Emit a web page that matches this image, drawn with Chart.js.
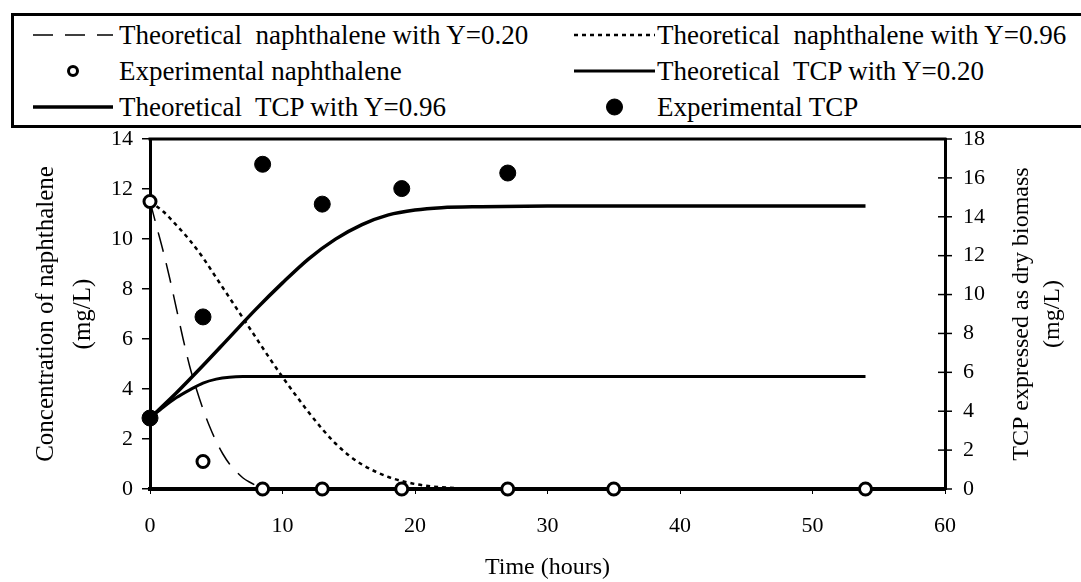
<!DOCTYPE html>
<html>
<head>
<meta charset="utf-8">
<script src="https://cdn.jsdelivr.net/npm/chart.js@4.4.1/dist/chart.umd.min.js"></script>
<style>
  html, body { margin: 0; padding: 0; background: #fff; }
  #wrap { position: relative; width: 1081px; height: 582px; overflow: hidden; }
  #chart { position: absolute; left: 0; top: 0; }
  #legend {
    position: absolute; left: 11px; top: 13px; width: 1120px; height: 109px;
    border: 3px solid #000; background: #fff; z-index: 2;
    font-family: "Liberation Serif", "Times New Roman", serif; font-size: 27px; color: #000;
  }
  .item { position: absolute; height: 36px; line-height: 36px; white-space: pre; }
  .item svg { position: absolute; top: 0; left: 0; }
  .item span { position: absolute; top: 0; }
</style>
</head>
<body>
<div id="wrap">
  <canvas id="chart" width="1081" height="582"></canvas>
  <div id="legend"></div>
</div>
<script>
// experimental points
var expTime = [0, 4, 8.5, 13, 19, 27, 35, 54];
var expNaph = [11.5, 1.1, 0, 0, 0, 0, 0, 0];
var expTcpTime = [0, 4, 8.5, 13, 19, 27];
var expTcp = [3.65, 8.85, 16.7, 14.65, 15.45, 16.25];

// model curves, naphthalene (mg/L)
var naph20Time = [0, 0.5, 1, 1.5, 2, 2.5, 3, 3.5, 4, 4.5, 5, 5.5, 6, 6.5, 7, 7.5, 8, 9, 10];
var naph20 = [11.5, 10.5, 9.5, 8.4, 7.2, 6.0, 4.9, 4.0, 3.2, 2.5, 1.9, 1.4, 1.0, 0.7, 0.45, 0.28, 0.15, 0.04, 0];
var naph96Time = [0, 1, 2, 3, 4, 5, 6, 7, 8, 9, 10, 11, 12, 13, 14, 15, 16, 17, 18, 19, 20, 21, 22, 24, 27, 54];
var naph96 = [11.5, 11.1, 10.55, 9.95, 9.25, 8.45, 7.65, 6.85, 6.05, 5.25, 4.48, 3.75, 3.05, 2.4, 1.82, 1.35, 0.98, 0.7, 0.48, 0.32, 0.2, 0.12, 0.07, 0.02, 0, 0];

// model curves, TCP as dry biomass (mg/L)
var tcp20Time = [0, 1, 2, 3, 4, 5, 6, 7, 10, 20, 54];
var tcp20 = [3.65, 4.2, 4.7, 5.1, 5.45, 5.65, 5.75, 5.78, 5.78, 5.78, 5.78];
var tcp96Time = [0, 2, 4, 6, 8, 10, 12, 14, 16, 18, 20, 22, 25, 30, 54];
var tcp96 = [3.65, 4.95, 6.35, 7.8, 9.25, 10.6, 11.85, 12.85, 13.6, 14.1, 14.35, 14.47, 14.52, 14.55, 14.55];

var serif = '"Liberation Serif", "Times New Roman", serif';

function pts(xs, ys) {
  return xs.map(function (x, i) { return { x: x, y: ys[i] }; });
}

function curve(label, xs, ys, axis, width, dash) {
  return {
    label: label, data: pts(xs, ys), yAxisID: axis, order: 1,
    borderColor: '#000', borderWidth: width, borderDash: dash,
    pointRadius: 0, fill: false, cubicInterpolationMode: 'monotone'
  };
}

function marks(label, xs, ys, axis, r, bg, bw) {
  return {
    label: label, data: pts(xs, ys), yAxisID: axis, showLine: false, order: 0, clip: false,
    pointStyle: 'circle', pointRadius: r, pointBorderWidth: bw,
    pointBackgroundColor: bg, pointBorderColor: '#000',
    backgroundColor: bg, borderColor: '#000', borderWidth: bw
  };
}

var datasets = [
  curve('Theoretical  naphthalene with Y=0.20', naph20Time, naph20, 'y', 1.5, [20, 12]),
  curve('Theoretical  naphthalene with Y=0.96', naph96Time, naph96, 'y', 2.5, [4, 4]),
  marks('Experimental naphthalene', expTime, expNaph, 'y', 6, '#fff', 3),
  curve('Theoretical  TCP with Y=0.20', tcp20Time, tcp20, 'y1', 3, []),
  curve('Theoretical  TCP with Y=0.96', tcp96Time, tcp96, 'y1', 3.5, []),
  marks('Experimental TCP', expTcpTime, expTcp, 'y1', 8, '#000', 1)
];

// top border of the plot, crossing ticks on the right axis, right axis title
var framePlugin = {
  id: 'frame',
  afterDraw: function (chart) {
    var ctx = chart.ctx, a = chart.chartArea, r = chart.scales.y1;
    ctx.save();
    ctx.strokeStyle = '#000';
    ctx.lineWidth = 3;
    ctx.beginPath();
    ctx.moveTo(a.left - 1.5, a.top);
    ctx.lineTo(a.right + 1.5, a.top);
    ctx.stroke();
    ctx.lineWidth = 1.5;
    r.ticks.forEach(function (t) {
      var y = r.getPixelForValue(t.value);
      ctx.beginPath();
      ctx.moveTo(a.right - 7, y);
      ctx.lineTo(a.right + 7, y);
      ctx.stroke();
    });
    ctx.fillStyle = '#000';
    ctx.font = '24px ' + serif;
    ctx.textAlign = 'center';
    ctx.textBaseline = 'middle';
    ctx.translate(0, (a.top + a.bottom) / 2);
    ctx.rotate(-Math.PI / 2);
    ctx.fillText('TCP expressed as dry biomass', 0, 1022);
    ctx.fillText('(mg/L)', 0, 1053);
    ctx.restore();
  }
};

var tickFont = { family: serif, size: 22 };

function draw() {
  var chart = new Chart(document.getElementById('chart').getContext('2d'), {
    type: 'line',
    data: { datasets: datasets },
    plugins: [framePlugin],
    options: {
      responsive: false,
      animation: false,
      layout: { padding: { top: 139 } },
      plugins: { legend: { display: false }, tooltip: { enabled: false } },
      scales: {
        x: {
          type: 'linear', min: 0, max: 60,
          ticks: { stepSize: 10, color: '#000', font: tickFont, padding: 19 },
          grid: { drawOnChartArea: false, tickLength: 5, color: '#000', lineWidth: 1 },
          border: { color: '#000', width: 4 },
          title: { display: true, text: 'Time (hours)', color: '#000', font: { family: serif, size: 24 }, padding: 0 },
          afterFit: function (s) { s.height = 93; }
        },
        y: {
          position: 'left', min: 0, max: 14,
          ticks: { stepSize: 2, color: '#000', font: tickFont, padding: 9 },
          grid: { drawOnChartArea: false, tickLength: 8, color: '#000', lineWidth: 1.5 },
          border: { color: '#000', width: 3 },
          title: {
            display: true, text: ['Concentration of naphthalene', '(mg/L)'], color: '#000',
            font: { family: serif, size: 25, lineHeight: 1.48 }, padding: { top: 27.5, bottom: 0 }
          },
          afterFit: function (s) { s.width = 150; }
        },
        y1: {
          position: 'right', min: 0, max: 18,
          ticks: { stepSize: 2, color: '#000', font: tickFont, padding: 18 },
          grid: { display: false, drawTicks: false },
          border: { display: true, color: '#000', width: 3 },
          afterFit: function (s) { s.width = 136; }
        }
      }
    }
  });

  // legend: two columns, three rows, built from the datasets
  var legend = document.getElementById('legend');
  var cols = [{ x0: 19, x1: 99, tx: 105 }, { x0: 560, x1: 641, tx: 643 }];
  chart.data.datasets.forEach(function (ds, i) {
    var c = cols[i % 2], row = Math.floor(i / 2);
    var item = document.createElement('div');
    item.className = 'item';
    item.style.left = '0px';
    item.style.top = (1 + row * 36) + 'px';
    var w = c.x1 + 20;
    var svg = '<svg width="' + w + '" height="36">';
    if (ds.showLine === false) {
      var cx = (c.x0 + c.x1) / 2;
      var rr = ds.pointRadius - (ds.pointBorderWidth > 1 ? ds.pointBorderWidth / 2 : 0);
      svg += '<circle cx="' + cx + '" cy="18" r="' + rr + '" fill="' + ds.pointBackgroundColor +
        '" stroke="#000" stroke-width="' + ds.pointBorderWidth + '"/>';
    } else {
      svg += '<line x1="' + c.x0 + '" y1="18" x2="' + c.x1 + '" y2="18" stroke="#000" stroke-width="' +
        ds.borderWidth + '"' + (ds.borderDash.length ? ' stroke-dasharray="' + ds.borderDash.join(' ') + '"' : '') + '/>';
    }
    svg += '</svg>';
    item.innerHTML = svg + '<span style="left:' + c.tx + 'px">' + ds.label + '</span>';
    legend.appendChild(item);
  });
}

document.fonts.load('22px "Liberation Serif"').then(draw, draw);
</script>
</body>
</html>
